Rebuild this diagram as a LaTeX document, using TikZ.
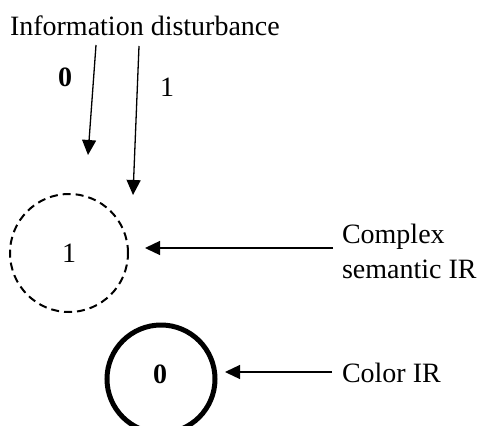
\documentclass[tikz,border=0pt]{standalone}
\usepackage{fontspec}
\setmainfont{Liberation Serif}
\usetikzlibrary{arrows.meta}
\begin{document}
\begin{tikzpicture}[x=1pt,y=-1pt,
  every node/.style={font=\fontsize{28}{34}\selectfont, inner sep=0pt, outer sep=0pt},
  arr/.style={line width=1.3pt, -{Triangle[length=15pt,width=14pt]}},
  dashcircle/.style={circle, draw, dash pattern=on 8pt off 5pt, line width=2pt, minimum size=118pt},
  thickcircle/.style={circle, draw, line width=5pt, minimum size=108pt}]
\useasboundingbox (0,0) rectangle (481,425);
\node[anchor=base west] (title) at (10,36) {Information disturbance};
\coordinate (s0) at (96,45);
\coordinate (e0) at (88,155);
\coordinate (s1) at (139,46);
\coordinate (e1) at (133,195);
\draw[arr] (s0) -- (e0);
\draw[arr] (s1) -- (e1);
\node[anchor=base] (l0) at (65,87) {\textbf{0}};
\node[anchor=base] (l1) at (167,97) {1};
\node[dashcircle] (c1) at (69,253) {1};
\node[thickcircle] (c0) at (161,379) {};
\node[anchor=base] (t0) at (160,383) {\textbf{0}};
\node[anchor=base west] (cs1) at (342,243) {Complex};
\node[anchor=base west] (cs2) at (342,278) {semantic IR};
\node[anchor=base west] (cir) at (342,382) {Color IR};
\coordinate (h1s) at (333,248);
\coordinate (h1e) at (145,248);
\coordinate (h0s) at (332,372);
\coordinate (h0e) at (225,372);
\draw[arr] (h1s) -- (h1e);
\draw[arr] (h0s) -- (h0e);
\end{tikzpicture}
\end{document}
